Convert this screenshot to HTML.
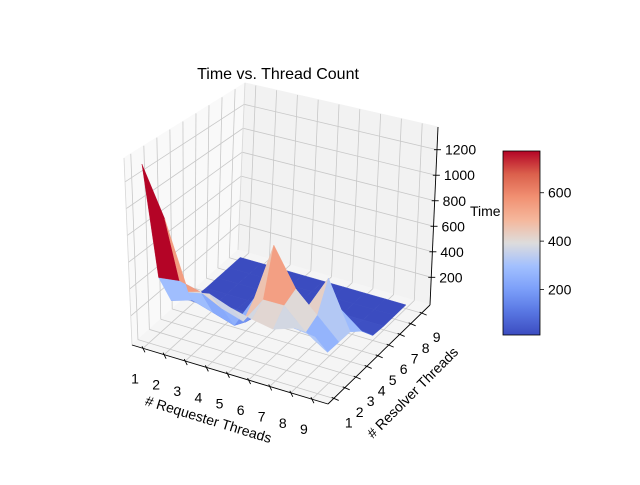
<!DOCTYPE html>
<html><head><meta charset="utf-8"><style>
body{margin:0;background:#fff}
svg text{font-family:"Liberation Sans","DejaVu Sans",sans-serif;fill:#000}
</style></head><body>
<svg id="c" width="640" height="480" viewBox="0 0 640 480" xmlns="http://www.w3.org/2000/svg">
<rect width="640" height="480" fill="#fff"/>
<text x="278" y="79" font-size="16" text-anchor="middle">Time vs. Thread Count</text>
<g id="panes"></g>
<g id="grid"></g>
<g id="surf"></g>
<g id="axes"></g>
<text transform="translate(207,424) rotate(17)" font-size="14" text-anchor="middle"># Requester Threads</text>
<text transform="translate(416,396) rotate(-45)" font-size="14" text-anchor="middle"># Resolver Threads</text>
<text x="470" y="216" font-size="14">Time</text>
<defs><linearGradient id="cg" x1="0" y1="1" x2="0" y2="0"></linearGradient></defs>
<g id="cbar"></g>
</svg>
<script>
// data
const requesterThreads = [1,2,3,4,5,6,7,8,9];
const resolverThreads = [1,2,3,4,5,6,7,8,9];
const zTicks = [200,400,600,800,1000,1200];
const cbTicks = [200,400,600];
// rows = resolver threads 1..9, cols = requester threads 1..9
const timeRow1 = [1320,950,450,480,420,380,350,400,380];
const timeRow2 = [400,420,380,300,250,450,450,300,200];
const timeRow3 = [150,200,150,100,350,780,500,350,200];
const timeRow4 = [100,80,60,50,200,400,300,550,200];
const timeRow5 = [20,15,20,20,30,60,100,250,130];
const timeRow6 = [12,12,12,12,12,15,30,40,20];
const timeRow7 = [12,12,12,12,12,12,12,12,12];
const timeRow8 = [12,12,12,12,12,12,12,12,12];
const timeRow9 = [12,12,12,12,12,12,12,12,12];
const Z = [timeRow1,timeRow2,timeRow3,timeRow4,timeRow5,timeRow6,timeRow7,timeRow8,timeRow9];

const XMIN=0.48,XMAX=9.76,YMIN=0.48,YMAX=9.76,ZMIN=-17,ZMAX=1378;
const C={
 '000':[132,345],'100':[328,404],'010':[238,250],'110':[430,305],
 '001':[124,158],'101':[317,202],'011':[245,83],'111':[438,127]};
function lerp(a,b,t){return [a[0]+(b[0]-a[0])*t,a[1]+(b[1]-a[1])*t];}
function proj(x,y,z){
 const fx=(x-XMIN)/(XMAX-XMIN),fy=(y-YMIN)/(YMAX-YMIN),fz=(z-ZMIN)/(ZMAX-ZMIN);
 const b=lerp(lerp(C['000'],C['100'],fx),lerp(C['010'],C['110'],fx),fy);
 const t=lerp(lerp(C['001'],C['101'],fx),lerp(C['011'],C['111'],fx),fy);
 return lerp(b,t,fz);
}
const NS='http://www.w3.org/2000/svg';
function mk(tag,parent,attrs){const e=document.createElementNS(NS,tag);for(const k in attrs)e.setAttribute(k,attrs[k]);parent.appendChild(e);return e;}
function pts(a){return a.map(p=>p[0].toFixed(1)+','+p[1].toFixed(1)).join(' ');}
function line(parent,p,q,col,w,name){const e=mk('line',parent,{x1:p[0],y1:p[1],x2:q[0],y2:q[1],stroke:col,'stroke-width':w});
 
 return e;}

// panes
const panes=document.getElementById('panes');
let e=mk('polygon',panes,{points:pts([proj(XMIN,YMIN,ZMIN),proj(XMIN,YMAX,ZMIN),proj(XMIN,YMAX,ZMAX),proj(XMIN,YMIN,ZMAX)]),fill:'#f9f9f9',stroke:'#f9f9f9'});


e=mk('polygon',panes,{points:pts([proj(XMIN,YMAX,ZMIN),proj(XMAX,YMAX,ZMIN),proj(XMAX,YMAX,ZMAX),proj(XMIN,YMAX,ZMAX)]),fill:'#f2f2f2',stroke:'#f2f2f2'});


e=mk('polygon',panes,{points:pts([proj(XMIN,YMIN,ZMIN),proj(XMAX,YMIN,ZMIN),proj(XMAX,YMAX,ZMIN),proj(XMIN,YMAX,ZMIN)]),fill:'#f5f5f5',stroke:'#f5f5f5'});



// gridlines
const grid=document.getElementById('grid');
const gc='#c8c8c8';
requesterThreads.forEach(x=>{
 line(grid,proj(x,YMIN,ZMIN),proj(x,YMAX,ZMIN),gc,0.8,'x-gridline');
 line(grid,proj(x,YMAX,ZMIN),proj(x,YMAX,ZMAX),gc,0.8,'x-gridline');
});
resolverThreads.forEach(y=>{
 line(grid,proj(XMIN,y,ZMIN),proj(XMAX,y,ZMIN),gc,0.8,'y-gridline');
 line(grid,proj(XMIN,y,ZMIN),proj(XMIN,y,ZMAX),gc,0.8,'y-gridline');
});
zTicks.forEach(z=>{
 line(grid,proj(XMIN,YMIN,z),proj(XMIN,YMAX,z),gc,0.8,'z-gridline');
 line(grid,proj(XMIN,YMAX,z),proj(XMAX,YMAX,z),gc,0.8,'z-gridline');
});
line(grid,proj(XMIN,YMIN,ZMIN),proj(XMIN,YMIN,ZMAX),'#d8d8d8',0.8,'pane-edge');
line(grid,proj(XMIN,YMAX,ZMIN),proj(XMIN,YMAX,ZMAX),'#d8d8d8',0.8,'pane-edge');

// coolwarm colormap
const CW=[[0,59,76,192],[0.125,88,118,226],[0.25,124,159,249],[0.375,162,192,254],[0.5,221,220,220],[0.625,245,183,156],[0.75,241,144,114],[0.875,219,96,76],[1,180,4,38]];
function cmap(t){t=Math.max(0,Math.min(1,t));for(let i=1;i<CW.length;i++){if(t<=CW[i][0]){const a=CW[i-1],b=CW[i],u=(t-a[0])/(b[0]-a[0]);
 return 'rgb('+[1,2,3].map(k=>Math.round(a[k]+(b[k]-a[k])*u)).join(',')+')';}}return 'rgb(180,4,38)';}

// faces
const faces=[];
for(let j=0;j<resolverThreads.length-1;j++)for(let i=0;i<requesterThreads.length-1;i++){
 const x0=requesterThreads[i],x1=requesterThreads[i+1],y0=resolverThreads[j],y1=resolverThreads[j+1];
 const z00=Z[j][i],z10=Z[j][i+1],z01=Z[j+1][i],z11=Z[j+1][i+1];
 faces.push({p:[proj(x0,y0,z00),proj(x1,y0,z10),proj(x1,y1,z11),proj(x0,y1,z01)],avg:(z00+z10+z01+z11)/4,
  d:0.5*(x0+x1)/2-0.866*(y0+y1)/2});
}
let fmin=Infinity,fmax=-Infinity;faces.forEach(f=>{fmin=Math.min(fmin,f.avg);fmax=Math.max(fmax,f.avg);});
faces.sort((a,b)=>a.d-b.d);
const surf=document.getElementById('surf');
faces.forEach(f=>{const col=cmap((f.avg-fmin)/(fmax-fmin));
 const el=mk('polygon',surf,{points:pts(f.p),fill:col,stroke:col,'stroke-width':0.4,'stroke-linejoin':'round'});
 
 
});

// axes
const ax=document.getElementById('axes');
line(ax,proj(XMIN,YMIN,ZMIN),proj(XMAX,YMIN,ZMIN),'#000',0.9,'x-axis-line');
line(ax,proj(XMAX,YMIN,ZMIN),proj(XMAX,YMAX,ZMIN),'#000',0.9,'y-axis-line');
line(ax,proj(XMAX,YMAX,ZMIN),proj(XMAX,YMAX,ZMAX),'#000',0.9,'z-axis-line');
requesterThreads.forEach(x=>{const p=proj(x,YMIN,ZMIN);
 line(ax,[p[0]-1,p[1]-2],[p[0]+2,p[1]+4],'#000',0.9,'x-tick');
 const t=mk('text',ax,{x:p[0]-8,y:p[1]+35,'font-size':14,'text-anchor':'middle'});t.textContent=x;
 
 });
resolverThreads.forEach(y=>{const p=proj(XMAX,y,ZMIN);
 line(ax,[p[0]-2,p[1]-1],[p[0]+5,p[1]+2],'#000',0.9,'y-tick');
 const t=mk('text',ax,{x:p[0]+15,y:p[1]+29,'font-size':14,'text-anchor':'middle'});t.textContent=y;
 
 });
zTicks.forEach(z=>{const p=proj(XMAX,YMAX,z);
 line(ax,[p[0]-3,p[1]],[p[0]+4,p[1]],'#000',0.9,'z-tick');
 const t=mk('text',ax,{x:p[0]+8,y:p[1]+5,'font-size':14});t.textContent=z;
 
 });

// colorbar
const cg=document.getElementById('cg');
for(let k=0;k<=16;k++){mk('stop',cg,{offset:(k/16),'stop-color':cmap(k/16)});}
const cb=document.getElementById('cbar');
const CBX=503,CBW=37,CBT=151,CBB=335;
e=mk('rect',cb,{x:CBX,y:CBT,width:CBW,height:CBB-CBT,fill:'url(#cg)',stroke:'#000','stroke-width':0.8});


cbTicks.forEach(v=>{const yy=CBB-(v-fmin)/(fmax-fmin)*(CBB-CBT);
 line(cb,[CBX+CBW,yy],[CBX+CBW+4,yy],'#000',0.8,'colorbar-tick');
 const t=mk('text',cb,{x:CBX+CBW+8,y:yy+5,'font-size':14});t.textContent=v;
 
 });
</script>
</body></html>
